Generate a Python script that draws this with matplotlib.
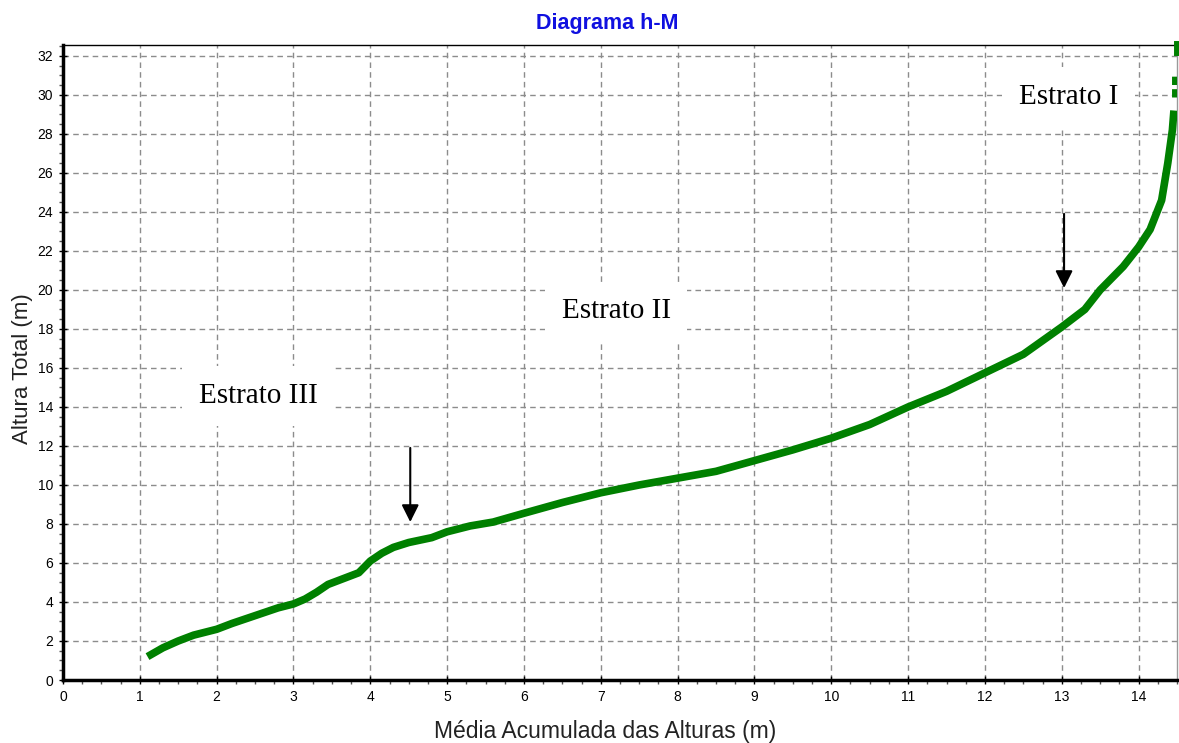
import numpy as np
import matplotlib.pyplot as plt
from matplotlib.ticker import MultipleLocator

# curve
media = [1.1, 1.3, 1.5, 1.7, 2.0, 2.2, 2.5, 2.8, 3.0, 3.15, 3.3, 3.45, 3.65, 3.85,
         4.0, 4.15, 4.3, 4.5, 4.8, 5.0, 5.3, 5.6, 6.0, 6.5, 7.0, 7.5, 8.0, 8.5,
         9.0, 9.5, 10.0, 10.5, 11.0, 11.5, 12.0, 12.5, 13.0, 13.3, 13.5, 13.8,
         14.0, 14.15, 14.3, 14.38, 14.44, 14.46]
altura = [1.2, 1.65, 2.0, 2.3, 2.6, 2.9, 3.3, 3.7, 3.9, 4.15, 4.5, 4.9, 5.2, 5.5,
          6.1, 6.5, 6.8, 7.05, 7.3, 7.6, 7.9, 8.1, 8.55, 9.1, 9.6, 10.0, 10.35, 10.7,
          11.25, 11.8, 12.4, 13.1, 14.0, 14.8, 15.75, 16.7, 18.1, 19.0, 20.0, 21.2,
          22.2, 23.1, 24.6, 26.5, 28.2, 29.2]
topo_x = [14.48, 14.48]
topo_y = [29.9, 31.1]
pico_x = [14.5, 14.5]
pico_y = [32.2, 32.6]

estratos = ["Estrato I", "Estrato II", "Estrato III"]
estratos_x = [13.09, 7.2, 2.54]
estratos_y = [29.9, 18.9, 14.56]
setas_x = [4.52, 13.03]
setas_y0 = [11.9, 23.9]
setas_y1 = [8.1, 20.1]

plt.rcParams['font.family'] = ['Liberation Sans', 'DejaVu Sans']

fig = plt.figure(figsize=(11.79, 7.43), dpi=100)
ax = fig.add_axes([63 / 1179, 63 / 743, 1114 / 1179, 635 / 743])

green = "#008000"
ax.plot(media, altura, color=green, linewidth=5.5, solid_capstyle="butt", zorder=3)
ax.plot(topo_x, topo_y, color=green, linewidth=5, linestyle=(0, (1.2, 0.6)), zorder=3)
ax.plot(pico_x, pico_y, color=green, linewidth=5, zorder=3, clip_on=False)

ax.set_xlim(0, 14.5)
ax.set_ylim(0, 32.56)
ax.set_xticks(np.arange(0, 15, 1))
ax.set_yticks(np.arange(0, 33, 2))
ax.xaxis.set_minor_locator(MultipleLocator(0.25))
ax.yaxis.set_minor_locator(MultipleLocator(0.5))
ax.tick_params(which="major", direction="inout", length=6, width=1, labelsize=10, pad=4)
ax.tick_params(which="minor", direction="out", length=3, width=1, color="#555555")
ax.set_axisbelow(True)
ax.grid(which="major", color="#8c8c8c", linestyle=(0, (4, 3)), linewidth=1)

ax.spines['left'].set_linewidth(2.5)
ax.spines['bottom'].set_linewidth(2.5)
ax.spines['top'].set_linewidth(1)
ax.spines['right'].set_linewidth(1)
ax.spines['right'].set_color("#999999")

ax.set_xlabel("Média Acumulada das Alturas (m)", fontsize=16.5, color="#222222")
ax.set_ylabel("Altura Total (m)", fontsize=16, color="#222222")
ax.xaxis.set_label_coords(0.4865, -0.063)
ax.yaxis.set_label_coords(-0.0265, 0.49)
fig.text(0.515, 0.968, "Diagrama h-M", color="#1010e0", fontsize=15.5, fontweight="bold",
         ha="center", va="center")

for t, x, y in zip(estratos, estratos_x, estratos_y):
    ax.text(x, y, t, family=["Liberation Serif"], fontsize=21, ha="center", va="center",
            zorder=4, bbox=dict(facecolor="white", edgecolor="none", pad=12))

for x, y0, y1 in zip(setas_x, setas_y0, setas_y1):
    ax.annotate("", xy=(x, y1), xytext=(x, y0), zorder=5,
                arrowprops=dict(arrowstyle="-|>", color="black", lw=1.5,
                                mutation_scale=26, shrinkA=0, shrinkB=0))

fig.savefig("out.png", dpi=100)
